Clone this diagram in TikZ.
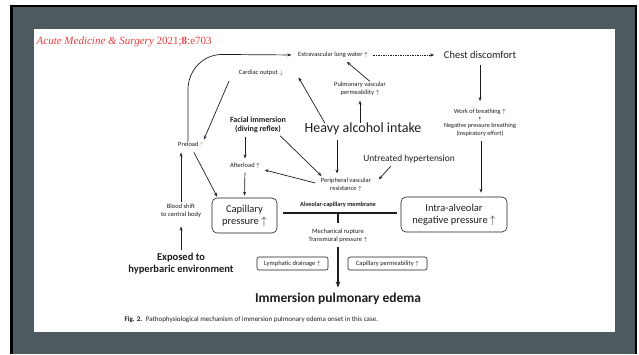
\documentclass[tikz,border=0pt]{standalone}
\usepackage{fontspec}
\setmainfont{Carlito}
\newfontfamily\hdrfont{Liberation Serif}
\usetikzlibrary{arrows.meta,calc}
\definecolor{framegrey}{RGB}{77,91,97}
\definecolor{hdrred}{RGB}{232,62,62}
\definecolor{uporange}{RGB}{225,135,40}
\definecolor{downblue}{RGB}{40,80,190}
\definecolor{inkc}{RGB}{30,30,30}
\newcommand{\upar}{$\uparrow$}
\newcommand{\dnar}{$\downarrow$}
\begin{document}
\begin{tikzpicture}[x=1pt,y=-1pt,
  every node/.style={inner sep=0.5pt, align=center, text=inkc},
  tiny/.style={font=\fontsize{6.5}{8}\selectfont},
  tinyb/.style={font=\fontsize{6.3}{8}\selectfont\bfseries},
  midb/.style={font=\fontsize{8}{9}\selectfont\bfseries},
  mid/.style={font=\fontsize{9.4}{11}\selectfont},
  big/.style={font=\fontsize{10.5}{12}\selectfont},
  bigb/.style={font=\fontsize{10.5}{12}\selectfont\bfseries},
  huge/.style={font=\fontsize{14}{16}\selectfont},
  hugeb/.style={font=\fontsize{13.5}{16}\selectfont\bfseries},
  rbox/.style={draw=inkc, rounded corners=5pt, line width=0.6pt, big},
  sbox/.style={draw=inkc, rounded corners=2pt, line width=0.6pt, tiny, minimum height=13pt, inner sep=0pt},
  link/.style={-{Stealth[length=4pt,width=3pt]}, line width=0.7pt, draw=inkc},
  thick link/.style={-{Stealth[length=6pt,width=4.5pt]}, line width=1.5pt, draw=inkc},
  membrane/.style={line width=1.5pt, draw=inkc}
]
\useasboundingbox (0,0) rectangle (639,354);
% frame
\fill[white] (0,0) rectangle (639,354);
\fill[black] (10,4.5) rectangle (637,354);
\fill[framegrey] (12.5,7) rectangle (634.5,354);
\fill[white] (34,29) rectangle (615,332);
% header
\node[anchor=west, font=\hdrfont\fontsize{11}{13}\selectfont, text=hdrred] (hdr) at (36,41.5)
  {\textit{Acute Medicine \& Surgery} 2021;\textbf{8}:e703};
% nodes
\node[tiny] (elw) at (333,55) {Extravascular lung water \upar};
\node[big] (chest) at (480,55) {Chest discomfort};
\node[tiny] (co) at (261,73) {Cardiac output {\color{downblue}\dnar}};
\node[tiny] (pvp) at (360,89) {Pulmonary vascular\\permeability \upar};
\node[midb] (fi) at (258,125) {Facial immersion\\(diving reflex)};
\node[huge] (hai) at (363,129) {Heavy alcohol intake};
\node[tiny, font=\fontsize{6.3}{7.3}\selectfont] (wob) at (480,122.5) {Work of breathing \upar\\+\\Negative pressure breathing\\(inspiratory effort)};
\node[tiny] (pre) at (191,145) {Preload {\color{uporange}\upar}};
\node[mid] (uh) at (409,159) {Untreated hypertension};
\node[tiny] (aft) at (245,166) {Afterload \upar};
\node[tiny] (pvr) at (346,185) {Peripheral vascular\\resistance \upar};
\node[tiny] (bs) at (181,211) {Blood shift\\to central body};
\node[rbox, minimum width=65pt, minimum height=35pt] (cap) at (244.5,215.5) {Capillary\\pressure \upar};
\node[rbox, minimum width=106pt, minimum height=35pt] (ian) at (454,214.5) {Intra-alveolar\\negative pressure \upar};
\node[tinyb] (acm) at (338,205) {Alveolar-capillary membrane};
\node[tiny] (mr) at (338,235.5) {Mechanical rupture\\Transmural pressure \upar};
\node[sbox, minimum width=71pt] (ld) at (292.5,263.5) {Lymphatic drainage \upar};
\node[sbox, minimum width=79pt] (cp) at (387.5,263.5) {Capillary permeability \upar};
\node[bigb] (exp) at (181,263.5) {Exposed to\\hyperbaric environment};
\node[hugeb] (ipe) at (338,299) {Immersion pulmonary edema};
\node[anchor=west, font=\fontsize{7}{8}\selectfont] (cap2) at (124,320)
  {\textbf{Fig. 2.}\enspace Pathophysiological mechanism of immersion pulmonary edema onset in this case.};
% membrane
\coordinate (mL) at (283,213);
\coordinate (mR) at (397,213);
\coordinate (mC) at (338,213);
\draw[membrane] (mL) -- (mR);
\draw[membrane] (mC) -- ($(mr.north)+(0,-5)$);
% connectors
\draw[link, shorten >=6pt] ($(pre.north)+(-3,0)$) -- ++(0,-52) to[out=90,in=180] ++(34,-35) -- (elw.west);
\draw[link, densely dotted, shorten <=4pt, shorten >=9pt] (elw.east) -- (chest.west);
\draw[link, shorten <=6pt, shorten >=7pt] (chest.south) -- (wob.north);
\draw[link, shorten <=4pt, shorten >=4pt] ($(wob.south)+(1,0)$) -- ($(ian.north)+(27,0)$);
\draw[link, shorten >=5pt] ($(pvp.north)+(10,0)$) -- ($(elw.south)+(10,0)$);
\draw[link, shorten >=4pt] ($(hai.north)+(-3,1)$) -- (pvp.south);
\draw[link, shorten >=1pt] ($(hai.north)+(-38,1)$) -- ($(co.south)+(37,0)$);
\draw[link, shorten <=5pt, shorten >=2pt] ($(co.south)+(-30,0)$) -- ($(pre.north)+(12,0)$);
\draw[link, shorten <=3pt, shorten >=4pt] ($(fi.south)+(-13,0)$) -- ($(aft.north)+(0,0)$);
\draw[link, shorten <=3pt, shorten >=2pt] ($(fi.south)+(20,0)$) -- ($(pvr.north)+(-23,0)$);
\draw[link, shorten <=4pt, shorten >=4pt] ($(hai.south)+(-26,0)$) -- ($(pvr.north)+(-9,0)$);
\draw[link, shorten <=3pt] ($(uh.south)+(-16,0)$) -- ($(pvr.north east)+(7,2)$);
\draw[link] ($(pvr.west)+(-5,-2)$) -- ($(aft.east)+(4,4)$);
\draw[link, shorten <=3pt, shorten >=2pt] (aft.south) -- (cap.north);
\draw[link, shorten >=1pt] ($(pre.south)+(3,4)$) -- ($(cap.north west)+(6,0)$);
\draw[link, shorten <=2pt] (bs.north) -- ($(pre.south)+(-10,4)$);
\draw[link, shorten <=2pt, shorten >=8pt] (exp.north) -- (bs.south);
\draw[thick link, shorten <=4pt, shorten >=5pt] (mr.south) -- (ipe.north);
\end{tikzpicture}
\end{document}
